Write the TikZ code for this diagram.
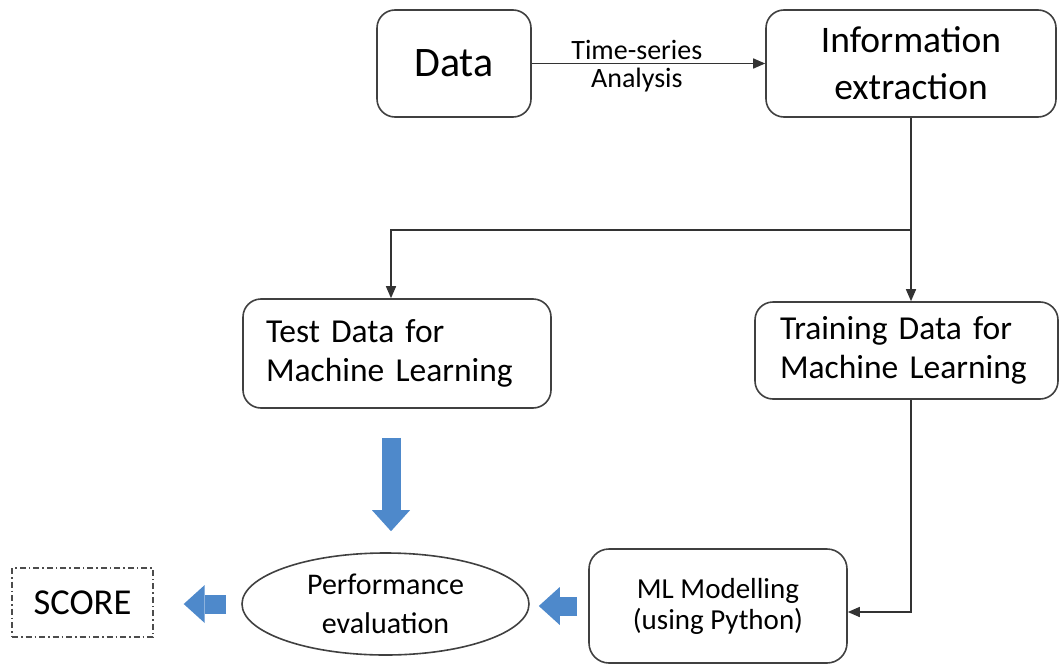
\documentclass[tikz,border=0pt]{standalone}
\usepackage{fontspec}
\setmainfont{Carlito}
\usepackage{xcolor}
\usetikzlibrary{calc,arrows.meta,positioning,shapes.geometric}
\definecolor{flowblue}{RGB}{78,137,203}

\begin{document}
\begin{tikzpicture}[x=1pt,y=-1pt,
    box/.style={draw=black!75, line width=1.6pt, rounded corners=18pt, inner sep=0pt},
    link/.style={draw=black!80, line width=1.5pt, -{Triangle[length=12pt,width=10pt]}},
    bigarrow/.style={draw=flowblue, line width=19pt, -{Triangle[length=21pt,width=38pt,line width=0pt]}}]
    \useasboundingbox (0,0) rectangle (1059,666);

    \node[box, minimum width=154pt, minimum height=107pt, font=\fontsize{42}{48}\selectfont]
        (data) at (454,63.5) {Data};
    \node[box, minimum width=290pt, minimum height=107pt, align=center, font=\fontsize{37.5}{47}\selectfont]
        (info) at (911,63.5) {Information\\extraction};
    \node[box, minimum height=109pt, text width=262pt, inner xsep=23pt, align=left, font=\fontsize{33.5}{39}\selectfont]
        (test) at (397,353.5) {Test Data for\\Machine Learning};
    \node[box, minimum height=97pt, text width=253pt, inner xsep=25pt, align=left, font=\fontsize{33.5}{39}\selectfont]
        (train) at (906.5,350.5) {Training Data for\\Machine Learning};
    \node[draw=black!75, line width=1.6pt, ellipse, inner sep=0pt, minimum width=287pt, minimum height=102pt,
        align=center, font=\fontsize{30}{39}\selectfont]
        (perf) at (385.5,604) {Performance\\evaluation};
    \node[box, rounded corners=20pt, minimum width=258pt, minimum height=114pt, align=center,
        font=\fontsize{29}{31}\selectfont]
        (ml) at (718,606) {ML Modelling\\(using Python)};
    \node[draw=black!70, line width=1.4pt, dash pattern=on 6pt off 3pt on 1.5pt off 3pt,
        minimum width=141pt, minimum height=69pt, inner sep=0pt, font=\fontsize{36.5}{40}\selectfont]
        (score) at (82.5,602.5) {SCORE};

    \coordinate (split) at (911,230);
    \coordinate (tdrop) at ([xshift=-6pt,yshift=-29pt]test.south);
    \coordinate (mlin) at ([yshift=-6pt]ml.east);

    \draw[link] (data.east) -- (info.west)
        node[pos=0.45, above=3pt, inner sep=0pt, font=\fontsize{28}{30}\selectfont] (tsa) {Time-series}
        node[pos=0.45, below=4pt, inner sep=0pt, font=\fontsize{28}{30}\selectfont] (ana) {Analysis};
    \draw[black!80, line width=1.5pt] (info.south) -- (split);
    \draw[link] (split) -- (split |- train.north);
    \draw[link] (split) -- (split -| tdrop) -- (tdrop |- test.north);
    \draw[link] (split |- train.south) -- (split |- mlin) -- (mlin);

    \draw[bigarrow, shorten >=21pt] (tdrop) -- (tdrop |- perf.north);
    \draw[bigarrow, shorten <=11pt, shorten >=9pt] (ml.west) -- (ml.west -| perf.east);
    \draw[bigarrow, shorten <=15pt, shorten >=30pt] (perf.west) -- (perf.west -| score.east);
\end{tikzpicture}
\end{document}
